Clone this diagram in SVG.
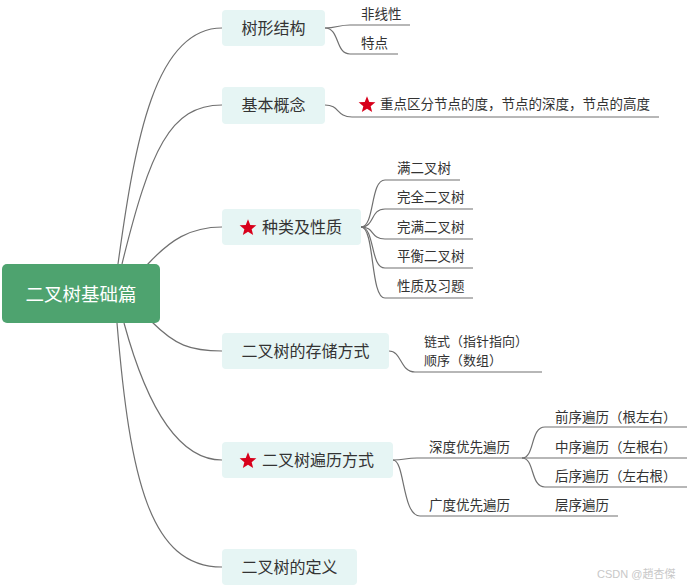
<svg xmlns="http://www.w3.org/2000/svg" xmlns:xlink="http://www.w3.org/1999/xlink" width="687" height="586" viewBox="0 0 687 586">
<style>
.t{font-family:"Noto Sans CJK SC","Liberation Sans",sans-serif;fill:#333;}
.n1{fill:#e6f5f4;}
.l1{font-size:16px;}
.l2{font-size:13.5px;}
.c{fill:none;stroke:#707070;stroke-width:1.2;}
</style>
<defs>
<polygon id="star" points="0,-8.8 2.27,-3.11 8.37,-2.72 3.66,1.19 5.17,7.12 0,3.85 -5.17,7.12 -3.66,1.19 -8.37,-2.72 -2.27,-3.11" fill="#d8001b"/>
</defs>
<rect width="687" height="586" fill="#fff"/>
<g id="connectors">
<path class="c" d="M118,264 C135,140 155,28 222,28"/>
<path class="c" d="M122,264 C150,150 170,105 222,105"/>
<path class="c" d="M147,265 C170,240 190,227 222,227"/>
<path class="c" d="M152,322 C175,345 190,351 222,351"/>
<path class="c" d="M124,323 C145,400 175,460 222,460"/>
<path class="c" d="M117,323 C130,480 150,567 222,567"/>
<path class="c" d="M325,28 C337,28 338,25 350,25 L410,25"/>
<path class="c" d="M325,28 C340,28 335,54 350,54 L398,54"/>
<path class="c" d="M325,105 C340,105 336,117 352,117 L659,117"/>
<path class="c" d="M361,227 C375,227 370,180 385,180 L460,180"/>
<path class="c" d="M361,227 C375,227 370,209 385,209 L473,209"/>
<path class="c" d="M361,227 C375,227 370,239 385,239 L473,239"/>
<path class="c" d="M361,227 C375,227 370,268 385,268 L473,268"/>
<path class="c" d="M361,227 C375,227 370,298 385,298 L473,298"/>
<path class="c" d="M389,351 C402,351 400,372 415,372 L542,372"/>
<path class="c" d="M393,460 C405,460 405,458 417,458 L522,458"/>
<path class="c" d="M393,460 C405,460 402,516 420,516 L618,516"/>
<path class="c" d="M522,458 C535,458 530,427 545,427 L687,427"/>
<path class="c" d="M522,458 L687,458"/>
<path class="c" d="M522,458 C535,458 530,487 545,487 L687,487"/>
</g>
<g id="root">
<rect x="2" y="264" width="158" height="59" rx="5" fill="#4ea36f"/>
<text class="t" x="81" y="300.5" font-size="18.5" text-anchor="middle" style="fill:#fff">二叉树基础篇</text>
</g>
<g id="n-tree">
<rect class="n1" x="222" y="10" width="103" height="36" rx="4"/>
<text class="t l1" x="273.5" y="33.5" text-anchor="middle">树形结构</text>
</g>
<g id="n-basic">
<rect class="n1" x="222" y="87" width="103" height="37" rx="4"/>
<text class="t l1" x="273.5" y="110.5" text-anchor="middle">基本概念</text>
</g>
<g id="n-kind">
<rect class="n1" x="222" y="209" width="139" height="36" rx="4"/>
<use xlink:href="#star" x="248" y="228"/>
<text class="t l1" x="262" y="232.5">种类及性质</text>
</g>
<g id="n-store">
<rect class="n1" x="222" y="333" width="167" height="36" rx="4"/>
<text class="t l1" x="305.5" y="356.5" text-anchor="middle">二叉树的存储方式</text>
</g>
<g id="n-trav">
<rect class="n1" x="222" y="442" width="171" height="36" rx="4"/>
<use xlink:href="#star" x="248" y="461"/>
<text class="t l1" x="262" y="465.5">二叉树遍历方式</text>
</g>
<g id="n-def">
<rect class="n1" x="222" y="549" width="135" height="36" rx="4"/>
<text class="t l1" x="289.5" y="572.5" text-anchor="middle">二叉树的定义</text>
</g>
<g id="leaves">
<text class="t l2" x="361" y="19">非线性</text>
<text class="t l2" x="361" y="48">特点</text>
<use xlink:href="#star" x="367" y="105"/>
<text class="t l2" x="380" y="109">重点区分节点的度，节点的深度，节点的高度</text>
<text class="t l2" x="397" y="173">满二叉树</text>
<text class="t l2" x="397" y="202">完全二叉树</text>
<text class="t l2" x="397" y="232">完满二叉树</text>
<text class="t l2" x="397" y="261">平衡二叉树</text>
<text class="t l2" x="397" y="291">性质及习题</text>
<text class="t" font-size="13" x="424" y="346">链式（指针指向）</text>
<text class="t" font-size="13" x="424" y="365">顺序（数组）</text>
<text class="t l2" x="429" y="452">深度优先遍历</text>
<text class="t l2" x="429" y="510">广度优先遍历</text>
<text class="t l2" x="555" y="422">前序遍历（根左右）</text>
<text class="t l2" x="555" y="452">中序遍历（左根右）</text>
<text class="t l2" x="555" y="481">后序遍历（左右根）</text>
<text class="t l2" x="555" y="510">层序遍历</text>
</g>
<text x="597" y="578" font-family="Liberation Sans,Noto Sans CJK SC,sans-serif" font-size="11" fill="#c8c8c8">CSDN @趙杏傑</text>
</svg>
